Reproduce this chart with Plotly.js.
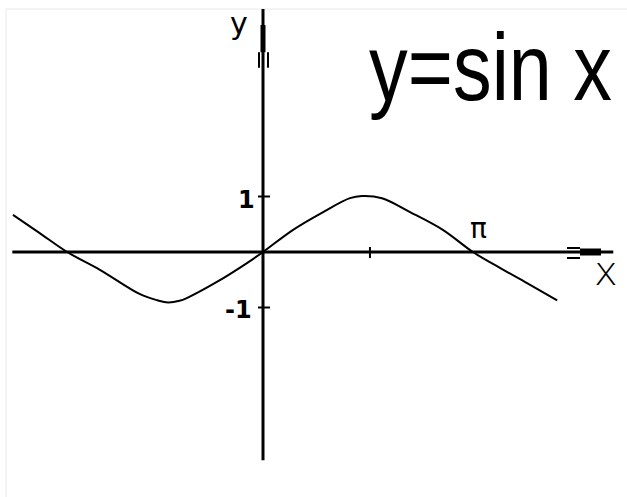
<!DOCTYPE html>
<html>
<head>
<meta charset="utf-8">
<script src="https://cdn.plot.ly/plotly-3.0.1.min.js"></script>
<style>html,body{margin:0;padding:0;background:#fff;}#chart{width:627px;height:497px;}</style>
</head>
<body>
<div id="chart"></div>
<script>
// Curve points (x in radians, y in units)
var curveX = [-3.74, -3.34, -2.93, -2.44, -1.84, -1.58, -1.42, -1.25, -1.14, -0.69, -0.24, 0.00, 0.45, 0.90, 1.30, 1.48, 1.78, 2.20, 2.69, 3.14, 3.55, 3.95, 4.40];
var curveY = [0.67, 0.34, 0.00, -0.32, -0.76, -0.87, -0.91, -0.88, -0.83, -0.54, -0.20, 0.00, 0.40, 0.72, 0.97, 1.01, 0.97, 0.72, 0.40, 0.00, -0.29, -0.56, -0.87];

// Axis extents
var xAxisExtent = [-3.75, 5.24];
var yAxisExtent = [-3.75, 4.38];
// Tick positions
var yTickValues = [1, -1];
var yTickLabels = ["1", "-1"];
var xTickValues = [1.6];
var piLabel = "π";
var titleText = "y=sin x";

var kx = 66.85, ky = 55.5, ox = 263, oy = 252, W = 627, H = 497;
var xRange = [-ox / kx, (W - ox) / kx];
var yRange = [-(H - oy) / ky, oy / ky];

var shapes = [];
function seg(x0, y0, x1, y1, w, c) {
  shapes.push({type: 'line', xref: 'x', yref: 'y', x0: x0, y0: y0, x1: x1, y1: y1,
    line: {color: c || '#000', width: w}});
}
// faint frame
shapes.push({type: 'line', xref: 'paper', yref: 'paper', x0: 6 / W, x1: 1, y0: 1 - 9 / H, y1: 1 - 9 / H, line: {color: '#e8e8e8', width: 1}});
shapes.push({type: 'line', xref: 'paper', yref: 'paper', x0: 6 / W, x1: 6 / W, y0: 0, y1: 1 - 9 / H, line: {color: '#e8e8e8', width: 1}});
// axes
seg(xAxisExtent[0], 0, xAxisExtent[1], 0, 3);
seg(0, yAxisExtent[0], 0, yAxisExtent[1], 3);
// y-axis arrow
seg(0.0, 4.09, 0.0, 3.60, 5);
seg(-0.06, 3.60, -0.06, 3.32, 2);
seg(0.075, 3.60, 0.075, 3.32, 2);
// x-axis arrow
seg(4.742, 0, 5.056, 0, 7);
seg(4.547, 0.072, 4.742, 0.072, 2);
seg(4.547, -0.108, 4.742, -0.108, 2);
// ticks
yTickValues.forEach(function (v) { seg(-0.075, v, 0.105, v, 2); });
xTickValues.forEach(function (v) { seg(v, 0.09, v, -0.11, 2); });

var annotations = [];
yTickValues.forEach(function (v, i) {
  annotations.push({x: v > 0 ? -0.24 : -0.36, y: v > 0 ? 0.93 : -1.04, xref: 'x', yref: 'y', text: yTickLabels[i], showarrow: false,
    font: {family: 'DejaVu Sans', size: 24, color: '#000', weight: 'bold'}});
});
annotations.push({x: 3.23, y: 0.43, xref: 'x', yref: 'y', text: piLabel, showarrow: false,
  font: {family: 'DejaVu Sans', size: 28, color: '#000'}});
annotations.push({x: 5.13, y: -0.34, xref: 'x', yref: 'y', text: 'x', showarrow: false,
  font: {family: 'DejaVu Sans', size: 40, color: '#000', weight: 200}});
annotations.push({x: -0.36, y: 4.12, xref: 'x', yref: 'y', text: 'y', showarrow: false,
  font: {family: 'DejaVu Sans', size: 30, color: '#000'}});
annotations.push({x: 3.41, y: 3.33, xref: 'x', yref: 'y', text: titleText, showarrow: false,
  font: {family: 'Liberation Sans, sans-serif', size: 94, color: '#000'}});

var trace = {x: curveX, y: curveY, type: 'scatter', mode: 'lines',
  line: {color: '#000', width: 2, shape: 'spline', smoothing: 1}, hoverinfo: 'skip'};

var layout = {
  width: W, height: H,
  margin: {l: 0, r: 0, t: 0, b: 0, pad: 0},
  paper_bgcolor: '#fff', plot_bgcolor: '#fff',
  showlegend: false,
  xaxis: {range: xRange, visible: false, fixedrange: true},
  yaxis: {range: yRange, visible: false, fixedrange: true},
  shapes: shapes,
  annotations: annotations
};
Plotly.newPlot('chart', [trace], layout, {displayModeBar: false, staticPlot: true}).then(function (gd) {
  // condense the big title horizontally to the reference's tight width
  var texts = gd.querySelectorAll('.annotation-text');
  texts.forEach(function (t) {
    if (t.textContent === titleText) {
      var bb = t.getBBox();
      var s = 243 / bb.width;
      var cx = bb.x + bb.width / 2;
      var tr = t.getAttribute('transform') || '';
      t.setAttribute('transform', tr + ' translate(' + cx + ',0) scale(' + s + ',1) translate(' + (-cx) + ',0)');
      var bg = t.parentNode.querySelector('rect.bg');
      if (bg) {
        bg.setAttribute('transform', tr + ' translate(' + cx + ',0) scale(' + s + ',1) translate(' + (-cx) + ',0)');
      }
    }
  });
});
</script>
</body>
</html>
